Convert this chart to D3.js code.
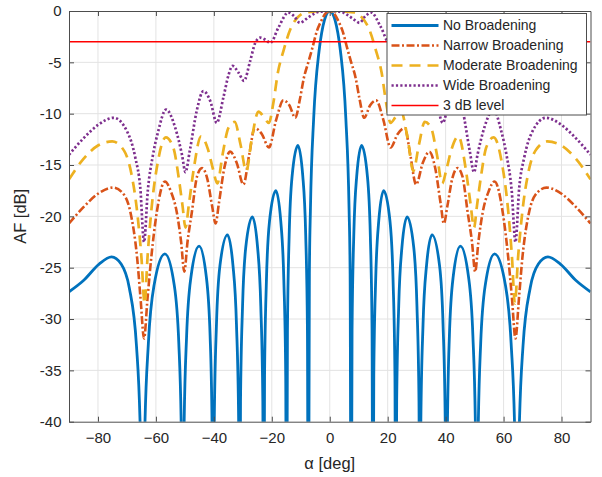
<!DOCTYPE html>
<html>
<head>
<meta charset="utf-8">
<script src="https://cdn.jsdelivr.net/npm/d3@7"></script>
<style>
  html, body { margin: 0; padding: 0; background: #fff; }
  svg { display: block; font-family: "Liberation Sans", Arial, Helvetica, sans-serif; }
</style>
</head>
<body>
<svg id="chart" width="602" height="477"></svg>
<script>
// ---- Array factor curves: [angle in deg, level in dB] ----
const noBroadening = [
  [-90,-27.35],[-85,-26.25],[-79.6,-24.65],[-75.3,-23.95],[-72.0,-24.65],[-69.2,-26.95],[-66.7,-32.65],[-65.3,-42.0],[-64.6,-60],
  [-63.9,-41.65],[-62.6,-32.35],[-60.6,-26.65],[-56.9,-23.65],[-53.7,-26.65],[-52.1,-32.35],[-51.2,-41.65],[-50.7,-60],
  [-50.3,-40.9],[-49.4,-31.6],[-47.9,-25.9],[-45.1,-22.9],[-42.6,-25.9],[-41.3,-31.6],[-40.6,-40.9],[-40.2,-60],
  [-39.85,-39.8],[-39.1,-30.5],[-37.9,-24.8],[-35.3,-21.8],[-33.4,-24.8],[-32.2,-30.5],[-31.45,-39.8],[-31.1,-60],
  [-30.8,-38.05],[-30.1,-28.75],[-29.0,-23.05],[-26.7,-20.05],[-24.9,-23.05],[-23.8,-28.75],[-23.1,-38.05],[-22.8,-60],
  [-22.5,-35.5],[-21.85,-26.2],[-20.8,-20.5],[-18.6,-17.5],[-16.9,-20.5],[-15.85,-26.2],[-15.2,-35.5],[-14.9,-60],
  [-14.6,-31.1],[-14.0,-21.8],[-13.0,-16.1],[-11.0,-13.1],[-9.3,-16.1],[-8.3,-21.8],[-7.7,-31.1],[-7.4,-60],
  [-7.03,-25.6],[-6.66,-19.2],[-5.55,-10.45],[-3.7,-3.92],[-2.8,-2.15],[-1.85,-0.91],[0,0],
  [1.85,-0.91],[2.8,-2.15],[3.7,-3.92],[5.55,-10.45],[6.66,-19.2],[7.03,-25.6],[7.4,-60],
  [7.7,-31.1],[8.3,-21.8],[9.3,-16.1],[11.0,-13.1],[13.0,-16.1],[14.0,-21.8],[14.6,-31.1],[14.9,-60],
  [15.2,-35.5],[15.85,-26.2],[16.9,-20.5],[18.6,-17.5],[20.8,-20.5],[21.85,-26.2],[22.5,-35.5],[22.8,-60],
  [23.1,-38.05],[23.8,-28.75],[24.9,-23.05],[26.7,-20.05],[29.0,-23.05],[30.1,-28.75],[30.8,-38.05],[31.1,-60],
  [31.45,-39.8],[32.2,-30.5],[33.4,-24.8],[35.3,-21.8],[37.9,-24.8],[39.1,-30.5],[39.85,-39.8],[40.2,-60],
  [40.6,-40.9],[41.3,-31.6],[42.6,-25.9],[45.1,-22.9],[47.9,-25.9],[49.4,-31.6],[50.3,-40.9],[50.7,-60],
  [51.2,-41.65],[52.1,-32.35],[53.7,-26.65],[56.9,-23.65],[60.6,-26.65],[62.6,-32.35],[63.9,-41.65],[64.6,-60],
  [65.3,-42.0],[66.7,-32.65],[69.2,-26.95],[72.0,-24.65],[75.3,-23.95],[79.6,-24.65],[85,-26.25],[90,-27.35]
];

const narrowBroadening = [
  [-90,-20.7],[-85,-19.1],[-80,-17.8],[-74.8,-17.2],[-71,-17.9],[-68.8,-19.6],[-66.5,-24.0],[-65.3,-28.0],[-64.1,-31.9],
  [-62.9,-28.0],[-61.6,-24.0],[-59.7,-19.6],[-56.9,-16.6],[-54.8,-17.6],[-52.8,-19.6],[-51.3,-22.5],[-50.2,-25.4],
  [-49.1,-22.5],[-47.6,-19.6],[-45.8,-16.1],[-44.1,-15.3],[-42.3,-16.3],[-40.6,-19.0],[-39.4,-20.7],[-38.3,-18.8],
  [-36.4,-15.3],[-34.4,-13.7],[-32.1,-14.8],[-29.8,-16.9],[-27.8,-14.0],[-25.9,-11.4],[-23.4,-12.0],[-21.0,-13.3],
  [-18.5,-10.6],[-16.0,-8.7],[-13.9,-9.2],[-11.9,-10.4],[-10.3,-8.6],[-9,-6.6],[-7.3,-4.9],[-6,-3.6],[-4.5,-2.0],
  [-3,-1.0],[-1.5,-0.25],[0,0],
  [1.5,-0.25],[3,-1.0],[4.5,-2.0],[6,-3.6],[7.3,-4.9],[9,-6.6],[10.3,-8.6],[11.9,-10.4],[13.9,-9.2],[16.0,-8.7],
  [18.5,-10.6],[21.0,-13.3],[23.4,-12.0],[25.9,-11.4],[27.8,-14.0],[29.8,-16.9],[32.1,-14.8],[34.4,-13.7],[36.4,-15.3],
  [38.3,-18.8],[39.4,-20.7],[40.6,-19.0],[42.3,-16.3],[44.1,-15.3],[45.8,-16.1],[47.6,-19.6],[49.1,-22.5],[50.2,-25.4],
  [51.3,-22.5],[52.8,-19.6],[54.8,-17.6],[56.9,-16.6],[59.7,-19.6],[61.6,-24.0],[62.9,-28.0],[64.1,-31.9],[65.3,-28.0],
  [66.5,-24.0],[68.8,-19.6],[71,-17.9],[74.8,-17.2],[80,-17.8],[85,-19.1],[90,-20.7]
];

const moderateBroadening = [
  [-90,-16.4],[-85,-14.4],[-80,-13.1],[-75.1,-12.7],[-71,-13.6],[-68.5,-15.8],[-66.5,-19.5],[-65,-24.0],[-63.9,-28.5],
  [-62.9,-24.0],[-61.5,-19.2],[-59.4,-14.8],[-56.6,-12.3],[-54,-13.3],[-52.1,-16.3],[-50.8,-19.0],[-49.8,-21.1],
  [-48.6,-18.8],[-47,-15.5],[-44.4,-12.2],[-42,-13.5],[-40.3,-15.4],[-38.8,-16.8],[-37,-14.0],[-35,-11.4],[-32.8,-10.8],
  [-30.8,-13.0],[-28.8,-15.6],[-27,-12.6],[-24.6,-9.8],[-22.8,-10.3],[-21,-10.9],[-19.5,-9.0],[-17.9,-6.0],[-16,-3.9],
  [-13.5,-1.7],[-11,-0.6],[-8.5,-0.15],[-5,-0.05],[0,0],
  [5,-0.05],[8.5,-0.15],[11,-0.6],[13.5,-1.7],[16,-3.9],[17.9,-6.0],[19.5,-9.0],[21,-10.9],[22.8,-10.3],[24.6,-9.8],
  [27,-12.6],[28.8,-15.6],[30.8,-13.0],[32.8,-10.8],[35,-11.4],[37,-14.0],[38.8,-16.8],[40.3,-15.4],[42,-13.5],
  [44.4,-12.2],[47,-15.5],[48.6,-18.8],[49.8,-21.1],[50.8,-19.0],[52.1,-16.3],[54,-13.3],[56.6,-12.3],[59.4,-14.8],
  [61.5,-19.2],[62.9,-24.0],[63.9,-28.5],[65,-24.0],[66.5,-19.5],[68.5,-15.8],[71,-13.6],[75.1,-12.7],[80,-13.1],
  [85,-14.4],[90,-16.4]
];

const wideBroadening = [
  [-90,-14.0],[-85,-12.4],[-80,-11.1],[-74.6,-10.4],[-70,-11.7],[-67.1,-14.3],[-65.4,-17.2],[-64.1,-22.5],[-62.8,-17.5],
  [-61,-14.0],[-59.2,-11.7],[-56.5,-9.6],[-53.3,-11.4],[-51,-14.0],[-49.8,-15.7],[-48.3,-13.6],[-45.9,-9.7],[-43.6,-7.8],
  [-41.2,-8.8],[-39,-10.9],[-36.7,-8.4],[-34.9,-6.2],[-33.6,-5.35],[-31.5,-6.0],[-29.6,-6.8],[-27.5,-4.9],[-25.7,-3.1],
  [-24,-2.6],[-22.2,-2.8],[-20.5,-3.1],[-17.7,-1.6],[-14.3,-0.15],[-12.3,-0.5],[-10.3,-1.15],[-8.2,-0.8],[-6.2,-0.4],
  [-4,-0.1],[0,0],
  [4,-0.1],[6.2,-0.4],[8.2,-0.8],[10.3,-1.15],[12.3,-0.5],[14.3,-0.15],[17.7,-1.6],[20.5,-3.1],[22.2,-2.8],[24,-2.6],
  [25.7,-3.1],[27.5,-4.9],[29.6,-6.8],[31.5,-6.0],[33.6,-5.35],[34.9,-6.2],[36.7,-8.4],[39,-10.9],[41.2,-8.8],
  [43.6,-7.8],[45.9,-9.7],[48.3,-13.6],[49.8,-15.7],[51,-14.0],[53.3,-11.4],[56.5,-9.6],[59.2,-11.7],[61,-14.0],
  [62.8,-17.5],[64.1,-22.5],[65.4,-17.2],[67.1,-14.3],[70,-11.7],[74.6,-10.4],[80,-11.1],[85,-12.4],[90,-14.0]
];

const halfPowerDb = -3;                        // 3 dB reference level
const angleDomain = [-90, 90];
const dbDomain = [-40, 0];
const angleTicks = [-80, -60, -40, -20, 0, 20, 40, 60, 80];
const dbTicks = [0, -5, -10, -15, -20, -25, -30, -35, -40];
const legendLabels = ["No Broadening", "Narrow Broadening", "Moderate Broadening", "Wide Broadening", "3 dB level"];

// ---- Layout ----
const svg = d3.select("#chart");
const plot = { left: 69, right: 590.5, top: 11, bottom: 421.7 };
const axisColor = "#4d4d4d";
const textColor = "#262626";

const x = d3.scaleLinear().domain(angleDomain).range([plot.left, plot.right]);
const y = d3.scaleLinear().domain(dbDomain).range([plot.bottom, plot.top]);

// plot background
svg.append("rect").attr("x", plot.left).attr("y", plot.top)
  .attr("width", plot.right - plot.left).attr("height", plot.bottom - plot.top)
  .attr("fill", "#fff");

// grid
const grid = svg.append("g").attr("stroke", "#e3e3e3").attr("stroke-width", 1);
grid.selectAll("line.gx").data(angleTicks).join("line")
  .attr("x1", d => x(d)).attr("x2", d => x(d))
  .attr("y1", plot.top).attr("y2", plot.bottom);
grid.selectAll("line.gy").data(dbTicks.filter(d => d > dbDomain[0] && d < dbDomain[1])).join("line")
  .attr("x1", plot.left).attr("x2", plot.right)
  .attr("y1", d => y(d)).attr("y2", d => y(d));

// clip region for curves
svg.append("defs").append("clipPath").attr("id", "plotClip")
  .append("rect").attr("x", plot.left).attr("y", plot.top)
  .attr("width", plot.right - plot.left).attr("height", plot.bottom - plot.top);

const series = [
  { name: legendLabels[0], data: noBroadening,       color: "#0072BD", width: 2.8, dash: null },
  { name: legendLabels[1], data: narrowBroadening,   color: "#D95319", width: 2.6, dash: "8,2.5,2,2.5" },
  { name: legendLabels[2], data: moderateBroadening, color: "#EDB120", width: 2.7, dash: "11,7" },
  { name: legendLabels[3], data: wideBroadening,     color: "#7E2F8E", width: 2.7, dash: "2.2,2.2" }
];

const line = d3.line()
  .x(d => x(d[0]))
  .y(d => y(d[1]))
  .curve(d3.curveMonotoneX);

const curves = svg.append("g").attr("clip-path", "url(#plotClip)");
series.forEach(s => {
  curves.append("path")
    .datum(s.data)
    .attr("fill", "none")
    .attr("stroke", s.color)
    .attr("stroke-width", s.width)
    .attr("stroke-linejoin", "round")
    .attr("stroke-dasharray", s.dash)
    .attr("d", line);
});

// 3 dB level
curves.append("line")
  .attr("x1", x(angleDomain[0])).attr("x2", x(angleDomain[1]))
  .attr("y1", y(halfPowerDb)).attr("y2", y(halfPowerDb))
  .attr("stroke", "#FF0000").attr("stroke-width", 1.6);

// ---- Axes (box with inward ticks) ----
function styleAxis(g) {
  g.attr("font-family", null).attr("font-size", null);
  g.select(".domain").attr("stroke", axisColor).attr("stroke-width", 1);
  g.selectAll(".tick line").attr("stroke", axisColor).attr("stroke-width", 1);
  g.selectAll(".tick text").attr("fill", textColor).style("font-size", "15px");
}

svg.append("g").attr("transform", `translate(0,${plot.bottom})`)
  .call(d3.axisBottom(x).tickValues(angleTicks).tickSizeInner(-5).tickSizeOuter(0).tickPadding(11))
  .call(styleAxis);
svg.append("g").attr("transform", `translate(0,${plot.top})`)
  .call(d3.axisTop(x).tickValues(angleTicks).tickSizeInner(-5).tickSizeOuter(0).tickFormat(""))
  .call(styleAxis);
svg.append("g").attr("transform", `translate(${plot.left},0)`)
  .call(d3.axisLeft(y).tickValues(dbTicks).tickSizeInner(-5).tickSizeOuter(0).tickPadding(7.5)
    .tickFormat(d => d === 0 ? "0" : String(d).replace("\u2212", "-")))
  .call(styleAxis);
svg.append("g").attr("transform", `translate(${plot.right},0)`)
  .call(d3.axisRight(y).tickValues(dbTicks).tickSizeInner(-5).tickSizeOuter(0).tickFormat(""))
  .call(styleAxis);

// axis labels
svg.append("text")
  .attr("x", (plot.left + plot.right) / 2).attr("y", 469)
  .attr("text-anchor", "middle").attr("fill", textColor).style("font-size", "16.5px")
  .text("\u03B1 [deg]");
svg.append("text")
  .attr("transform", `translate(26,${(plot.top + plot.bottom) / 2}) rotate(-90)`)
  .attr("text-anchor", "middle").attr("fill", textColor).style("font-size", "16.5px")
  .text("AF [dB]");

// ---- Legend ----
const legendItems = series.map(s => ({ name: s.name, color: s.color, width: s.width, dash: s.dash }))
  .concat([{ name: legendLabels[4], color: "#FF0000", width: 1.6, dash: null }]);
const lg = svg.append("g");
lg.append("rect").attr("x", 387).attr("y", 13.5).attr("width", 199.5).attr("height", 101.5)
  .attr("fill", "#fff").attr("stroke", axisColor).attr("stroke-width", 1);
legendItems.forEach((it, i) => {
  const cy = 25.5 + i * 20;
  lg.append("line").attr("x1", 391.5).attr("x2", 438.5).attr("y1", cy).attr("y2", cy)
    .attr("stroke", it.color).attr("stroke-width", it.width).attr("stroke-dasharray", it.dash);
  lg.append("text").attr("x", 443).attr("y", cy).attr("dy", "0.35em")
    .attr("fill", textColor).style("font-size", "14px").text(it.name);
});
</script>
</body>
</html>
